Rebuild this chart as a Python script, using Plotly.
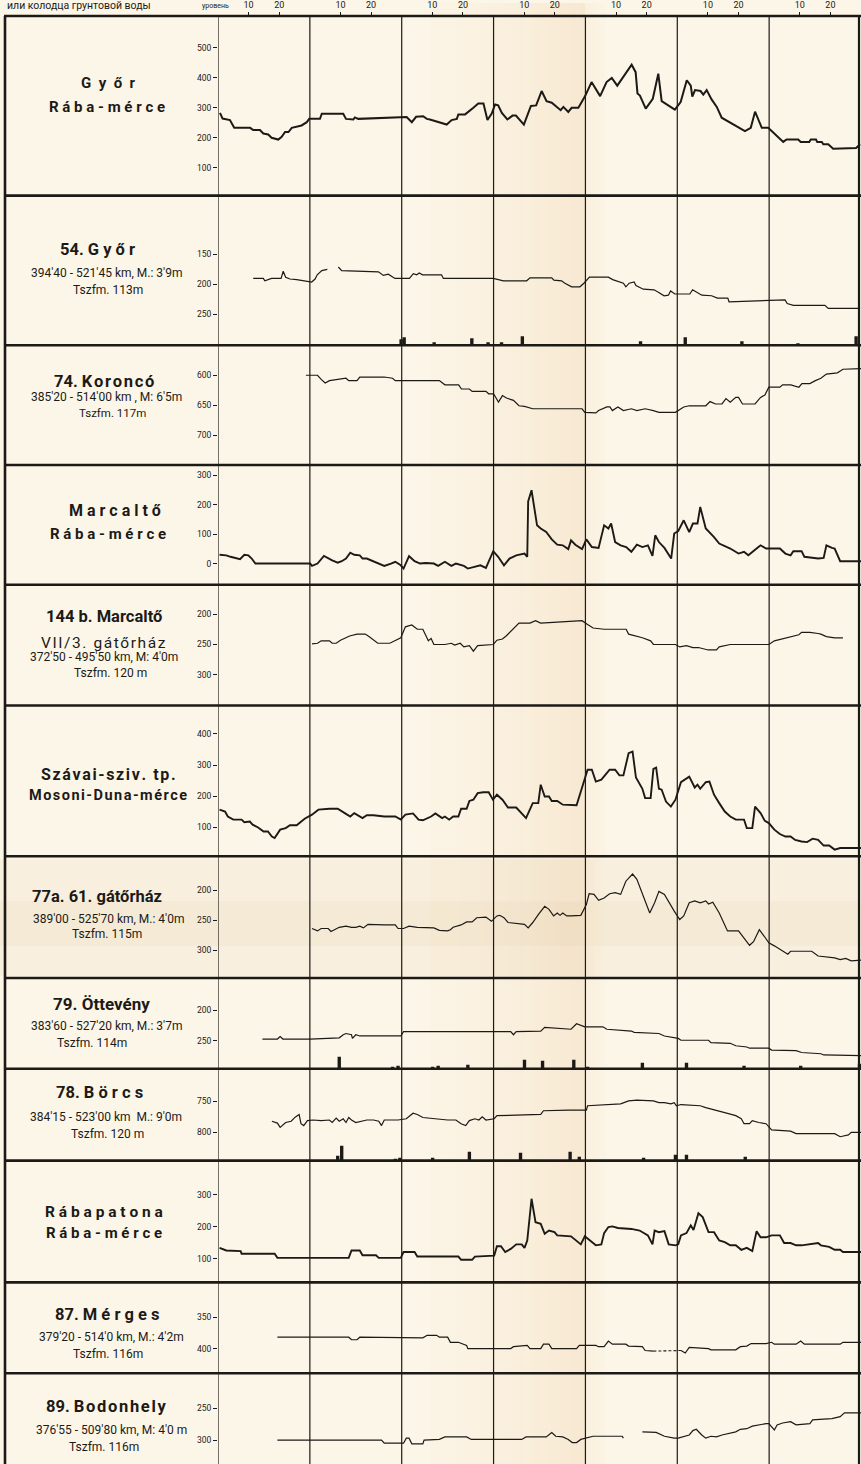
import plotly.graph_objects as go

# ---------------- DATA (day index from start of chart, value in cm) ----------------
header_days = [10, 20, 40, 50, 70, 80, 100, 110, 130, 140, 160, 170, 190, 200]
header_text = ["10", "20"] * 7
month_bounds = [0, 30, 60, 90, 120, 150, 180]

gyor_raba = [(0.65,283),(1.5,264),(3.9,259),(5.3,233),(10.5,233),(11.5,226),(13.7,226),(14.8,214),(16.4,211),(17.5,200),
             (19.7,194),(20.8,203),(21.9,219),(23.0,219),(24.1,233),(27.3,241),(29.0,252),(29.8,263),(33.3,263),(33.9,280),
             (40.9,280),(41.8,263),(44.2,261),(44.7,268),(45.8,263),(57.3,269),(61.6,269),(63.3,252),(64.7,270),(67.0,272),
             (68.2,263),(69.2,261),(74.7,244),(76.3,259),(78.0,263),(78.5,278),(80.7,278),(83.4,300),(85.0,314),(86.7,314),
             (88.0,259),(89.4,281),(90.5,311),(91.5,308),(92.7,283),(94.5,261),(96.2,274),(97.3,274),(99.9,244),(102.2,306),
             (103.9,308),(105.7,356),(107.3,322),(109.0,317),(110.6,303),(111.9,292),(112.8,303),(114.4,286),(115.5,300),(117.7,300),
             (119.9,339),(122.0,386),(124.8,339),(126.9,386),(128.6,400),(130.4,374),(135.1,444),(136.4,419),(137.0,348),(137.8,341),
             (139.7,297),(142.0,330),(143.8,414),(144.9,322),(149.2,294),(151.1,319),(153.1,392),(154.4,374),(154.9,337),(155.8,359),
             (157.6,356),(158.5,344),(159.6,359),(161.2,328),(162.9,303),(164.5,267),(172.1,222),(174.0,233),(175.4,287),(177.6,233),
             (179.7,233),(184.6,186),(185.7,194),(189.5,194),(190.3,186),(193.1,186),(193.6,194),(195.3,194),(195.7,186),(197.2,186),
             (197.7,178),(199.3,178),(200.9,163),(208.4,166),(209.7,178)]

gyor54 = [(11.5,190),(14.8,190),(15.3,194),(17.5,190),(20.6,190),(21.3,178),(22.1,188),(23.5,191),(25.7,192),(27.9,194),
          (30.6,196),(31.7,191),(32.4,184),(33.9,177),(35.7,175),(37.5,None),(39.3,171),(40.4,177),(52.4,179),(54.0,185),
          (55.6,183),(57.8,190),(62.5,190),(63.8,182),(64.9,184),(65.7,181),(66.8,184),(69.2,184),(73.0,184),(73.6,190),
          (89.9,190),(93.2,194),(100.8,194),(101.9,189),(109.0,189),(109.7,193),(112.2,194),(113.3,198),(115.5,204),(118.2,204),
          (119.5,198),(121.3,188),(127.5,188),(128.9,192),(132.4,198),(133.2,204),(134.3,198),(135.9,196),(136.5,202),(138.9,208),
          (142.4,209),(143.8,213),(145.7,219),(147.1,218),(147.8,211),(149.2,216),(154.1,216),(155.0,209),(156.3,213),(158.0,218),
          (161.2,219),(163.1,223),(166.5,223),(166.9,229),(185.2,226),(185.9,232),(187.9,235),(198.2,235),(199.3,240),(209.7,240)]
gyor54_precip = [(59.8,6),(60.8,8),(70.6,3),(82.9,7),(88.2,3),(92.6,3),(99.4,9),(138.0,4),(152.6,8),(171.1,4),(189.4,2),(208.4,9)]

koronco = [(28.7,600),(32.5,600),(33.7,607),(35.0,613),(36.4,609),(38.6,607),(41.8,605),(42.7,609),(45.4,609),(46.3,603),
           (54.3,603),(57.0,605),(57.9,609),(72.3,609),(74.1,616),(78.6,616),(79.5,623),(82.1,623),(83.0,627),(87.5,627),
           (88.4,631),(90.0,631),(90.7,637),(91.6,645),(92.9,634),(94.2,638),(96.5,642),(98.3,651),(100.1,652),(102.8,656),
           (118.9,656),(119.8,662),(123.4,663),(124.3,659),(127.0,653),(128.0,653),(128.8,659),(130.6,653),(132.4,659),(135.0,656),
           (136.8,659),(139.5,656),(142.2,659),(144.0,662),(149.4,662),(152.1,653),(153.9,651),(159.3,651),(160.7,644),(162.5,648),
           (164.6,648),(165.9,639),(167.3,645),(169.1,637),(170.0,637),(171.3,648),(175.4,648),(177.2,637),(178.6,633),(179.9,620),
           (183.5,620),(184.4,616),(187.1,616),(189.7,620),(190.7,614),(193.3,614),(195.1,609),(196.9,605),(198.7,598),(202.3,596),
           (204.1,590),(207.7,589),(210,589)]

marcalto_raba = [(0.5,30),(2.7,28),(4.1,23),(7.2,15),(8.6,30),(9.9,28),(11.0,17),(12.2,0),(30.1,0),(30.7,-8),
                 (32.5,0),(34.6,26),(37.3,11),(39.1,3),(40.4,8),(41.8,17),(43.2,37),(44.5,30),(46.3,28),(47.2,17),
                 (48.6,17),(50.8,8),(52.5,2),(54.3,-8),(56.5,0),(57.9,6),(59.7,-6),(60.6,-17),(62.4,25),(64.2,8),
                 (66.0,0),(67.8,2),(70.5,0),(71.9,-8),(74.1,6),(76.2,-8),(77.7,0),(80.3,-8),(81.6,-17),(83.9,-11),
                 (85.7,-6),(87.5,-15),(89.9,42),(91.5,23),(93.4,-6),(95.2,17),(97.4,28),(100.1,34),(101.0,23),(101.3,211),
                 (102.4,249),(104.2,130),(105.4,119),(107.2,107),(109.0,82),(110.8,64),(112.6,62),(114.4,49),(115.3,79),(116.7,64),
                 (118.9,49),(120.3,82),(122.1,56),(124.3,53),(126.1,130),(127.5,119),(128.4,136),(129.7,73),(131.5,62),(133.3,56),
                 (135.0,40),(136.8,64),(138.6,56),(140.4,62),(141.9,26),(142.8,96),(144.0,73),(145.8,53),(148.0,17),(149.0,102),
                 (150.3,110),(152.1,147),(153.9,107),(155.1,136),(156.6,136),(157.5,192),(159.3,119),(162.0,90),(163.7,68),(167.3,51),
                 (170.0,34),(171.8,40),(173.2,28),(175.9,51),(177.2,62),(179.0,51),(183.5,51),(185.3,34),(187.0,28),(187.9,42),
                 (190.6,42),(191.5,23),(196.0,17),(197.8,19),(198.7,62),(200.5,53),(201.4,51),(203.2,8),(210,8)]

marcalto144 = [(30.7,249),(32.5,248),(33.7,244),(36.4,244),(37.3,248),(38.6,248),(40.0,243),(41.8,239),(43.0,236),(45.4,233),
               (48.1,233),(49.3,237),(52.2,248),(56.1,248),(57.9,243),(59.7,239),(61.2,221),(63.3,218),(65.1,225),(66.9,225),
               (68.7,244),(69.6,240),(70.5,250),(74.1,250),(76.2,248),(77.3,251),(79.1,248),(80.3,254),(82.1,252),(83.4,261),
               (84.8,252),(86.6,251),(89.9,250),(91.1,243),(92.9,241),(94.1,236),(95.6,229),(98.3,215),(101.9,215),(103.7,211),
               (105.4,215),(109.0,214),(118.9,211),(120.7,217),(122.5,223),(126.1,225),(133.3,225),(134.1,233),(136.8,236),(138.6,239),
               (141.3,244),(142.2,250),(149.4,250),(150.8,254),(153.0,252),(155.1,255),(156.9,255),(160.1,259),(162.8,259),(163.7,254),
               (167.3,250),(179.9,250),(181.7,244),(184.4,241),(187.0,237),(189.7,234),(190.6,230),(193.3,230),(196.0,232),(196.9,233),
               (198.7,237),(201.4,239),(204.1,239)]

szavai_duna = [(0.5,157),(2.3,151),(3.2,135),(5.0,125),(7.7,125),(8.6,117),(10.4,119),(11.3,109),(13.1,100),(14.9,87),
               (16.3,87),(17.6,71),(18.5,66),(20.3,93),(22.1,98),(23.5,107),(25.7,107),(27.1,119),(28.3,128),(30.7,141),
               (32.8,157),(36.4,160),(39.1,160),(41.4,146),(43.2,135),(44.5,146),(46.3,135),(47.2,130),(48.6,139),(50.8,139),
               (54.3,135),(57.9,135),(59.7,125),(61.2,141),(63.7,145),(65.5,125),(66.9,123),(69.6,135),(71.0,145),(73.2,130),
               (74.1,135),(75.5,125),(76.8,135),(78.5,135),(79.4,160),(81.2,160),(82.1,185),(83.4,189),(84.8,210),(86.6,213),
               (88.4,213),(89.8,189),(91.1,205),(92.9,189),(94.7,164),(97.4,164),(100.6,130),(102.8,178),(104.6,178),(105.4,237),
               (106.7,199),(108.1,199),(109.0,185),(110.8,185),(112.6,173),(114.4,173),(117.1,171),(118.5,215),(119.4,242),(120.7,285),
               (122.1,285),(123.4,247),(125.2,253),(127.9,285),(129.7,285),(131.1,267),(132.4,267),(134.1,338),(135.4,343),(136.5,260),
               (138.6,224),(139.5,194),(141.3,194),(142.2,288),(143.1,292),(144.0,224),(144.9,221),(146.3,183),(147.9,167),(149.4,189),
               (151.2,245),(153.9,263),(155.7,228),(156.6,237),(157.5,224),(159.3,245),(160.5,247),(162.0,205),(163.7,178),(165.5,151),
               (167.3,135),(169.1,125),(171.8,125),(172.7,98),(174.5,98),(175.4,167),(177.2,146),(178.6,121),(179.9,114),(181.7,93),
               (183.5,79),(185.3,71),(187.0,71),(188.5,60),(190.6,55),(192.4,53),(194.2,64),(196.0,60),(197.8,42),(199.6,42),
               (201.4,29),(203.2,34),(210,34)]

gatorhaz61 = [(30.7,264),(32.5,268),(33.7,264),(36.0,264),(36.9,269),(38.6,264),(39.6,262),(41.8,260),(43.6,262),(45.0,262),
              (46.3,260),(47.5,263),(49.0,257),(54.3,258),(57.9,258),(58.8,264),(60.6,264),(62.4,260),(65.1,262),(70.5,263),
              (72.3,267),(75.0,268),(75.9,266),(76.8,262),(79.4,258),(81.2,253),(83.0,253),(84.5,246),(87.5,245),(89.3,252),
              (91.1,243),(92.0,242),(93.4,246),(94.7,254),(97.4,256),(100.1,257),(101.3,263),(102.8,254),(104.6,241),(106.7,227),
              (108.1,232),(109.6,243),(110.8,238),(111.7,242),(112.6,238),(113.9,243),(115.3,243),(118.5,242),(120.3,224),(121.2,206),
              (122.8,207),(124.3,217),(126.1,213),(127.9,206),(129.7,204),(131.5,207),(133.2,185),(135.4,173),(136.8,182),(138.6,207),
              (141.0,238),(142.6,221),(144.0,202),(145.8,207),(147.6,224),(149.0,235),(150.8,249),(152.1,243),(153.9,221),(155.7,218),
              (157.5,221),(159.3,218),(160.2,223),(161.6,220),(163.7,238),(166.4,268),(170.0,268),(171.8,281),(173.6,292),(174.9,286),
              (176.8,266),(178.4,277),(179.9,288),(181.7,293),(183.5,299),(186.1,307),(187.0,302),(193.9,302),(196.0,310),(198.7,312),
              (201.4,313),(203.2,316),(205.0,314),(206.8,318),(210,317)]

ottevény = [(14.5,247),(19.4,247),(20.3,243),(21.2,247),(30.1,247),(39.6,245),(40.9,240),(41.8,238),(43.6,240),(43.9,246),
            (45.0,240),(46.3,242),(59.7,242),(60.6,235),(95.6,235),(96.5,240),(97.4,235),(105.4,234),(106.7,228),(115.3,231),
            (117.1,222),(118.5,224),(119.8,227),(125.7,227),(127.0,231),(135.0,234),(135.9,236),(144.0,238),(145.8,242),(150.3,246),
            (151.2,249),(160.2,249),(161.0,253),(167.3,254),(169.1,258),(172.7,260),(173.6,262),(179.9,262),(180.8,265),(188.8,266),
            (190.6,269),(196.9,271),(197.8,273),(210,274)]
ottevény_precip = [(39.6,12),(57.0,2),(58.8,3),(70.1,2),(71.9,3),(81.6,4),(100.1,9),(106.0,8),(116.2,9),(120.7,2),
                   (138.6,6),(153.0,6),(171.8,3),(190.3,3),(209.5,5)]

borcs = [(17.6,782),(19.4,785),(20.3,792),(22.1,784),(23.9,782),(25.3,775),(26.5,771),(27.1,786),(28.0,789),(29.2,781),
         (31.0,780),(33.7,781),(36.4,780),(37.3,784),(38.6,777),(39.6,782),(40.9,778),(41.8,784),(42.7,776),(43.6,780),
         (45.0,784),(47.2,781),(48.6,780),(50.8,780),(52.5,782),(53.4,789),(54.3,780),(58.8,780),(61.5,778),(63.7,769),
         (65.1,771),(66.9,776),(68.7,777),(71.4,778),(75.0,780),(77.7,780),(79.4,786),(80.9,789),(82.1,781),(83.9,778),
         (85.2,780),(86.3,775),(87.5,780),(90.2,778),(91.1,773),(105.4,771),(106.3,765),(114.4,764),(120.3,764),(120.7,757),
         (131.5,754),(134.1,749),(136.8,748),(142.2,749),(144.0,752),(145.8,752),(147.9,754),(149.0,752),(149.7,757),(151.2,755),
         (157.5,757),(159.3,760),(162.0,764),(165.5,768),(169.1,773),(170.9,778),(171.8,786),(173.6,786),(174.5,781),(176.6,784),
         (179.0,786),(180.8,796),(187.0,798),(188.8,802),(201.4,802),(203.2,807),(205.9,804),(206.8,800),(210,800)]
borcs_precip = [(39.1,5),(40.4,15),(57.9,2),(59.4,3),(70.1,3),(82.1,9),(98.8,8),(115.0,9),(118.0,4),(139.0,3),
                (149.4,6),(153.0,6),(172.2,4)]

rabapatona = [(0.5,134),(2.7,126),(7.4,124),(7.7,116),(18.5,116),(19.4,103),(42.7,103),(43.6,126),(46.3,126),(47.2,111),
              (51.6,111),(52.5,103),(59.7,103),(60.6,121),(64.2,121),(65.1,107),(78.5,107),(79.4,97),(83.0,97),(83.9,107),
              (90.2,110),(91.1,139),(92.4,139),(93.8,121),(95.6,131),(97.4,145),(99.2,145),(100.1,134),(101.0,157),(102.4,287),
              (103.7,214),(105.4,209),(106.7,178),(108.1,188),(109.9,183),(110.8,173),(115.3,170),(118.5,145),(119.8,170),(121.6,157),
              (123.4,142),(125.2,145),(126.1,180),(127.5,199),(128.8,201),(130.6,196),(135.0,193),(137.7,188),(140.4,173),(141.9,145),
              (142.6,188),(144.0,183),(145.8,186),(147.2,145),(149.4,142),(150.3,145),(151.2,173),(153.0,180),(154.4,204),(155.3,190),
              (156.9,242),(158.3,230),(160.2,183),(162.0,183),(163.7,157),(165.5,152),(167.3,142),(169.1,142),(170.9,128),(172.7,134),
              (174.5,124),(175.9,186),(177.2,167),(179.0,167),(180.8,173),(183.5,173),(184.9,149),(187.0,149),(188.8,142),(190.6,142),
              (193.3,145),(196.0,149),(196.9,142),(199.6,137),(201.4,128),(203.2,128),(204.1,121),(210,121)]

merges = [(19.4,382),(42.7,382),(43.6,386),(45.4,386),(46.3,382),(66.0,382),(66.9,383),(68.3,379),(71.4,379),(72.3,382),
          (75.0,382),(75.9,390),(78.5,390),(81.2,395),(81.6,400),(95.6,400),(96.5,397),(101.0,395),(101.9,400),(105.4,400),
          (106.3,393),(108.1,393),(109.0,400),(117.1,400),(118.0,395),(123.4,395),(124.3,397),(126.1,397),(127.5,388),(128.8,393),
          (133.2,393),(134.1,396),(138.6,397),(139.5,403),(142.2,404),(146.0,None),(151.2,403),(152.6,407),(153.9,398),(160.2,400),
          (161.0,402),(169.1,402),(170.6,397),(172.7,396),(174.1,392),(179.0,392),(180.8,390),(181.7,393),(188.8,393),(190.3,388),
          (191.5,393),(203.2,393),(204.1,390),(210,390)]
merges_dashed = [(142.2,404),(151.2,403)]

bodonhely = [(19.4,300),(53.4,300),(54.3,305),(60.6,305),(61.5,297),(62.4,297),(63.3,306),(66.9,306),(67.3,300),(72.3,299),
             (74.1,295),(81.2,295),(82.7,299),(99.2,299),(100.6,295),(107.2,295),(109.0,288),(110.3,294),(112.6,295),(114.4,299),
             (115.7,304),(117.1,304),(118.5,299),(120.3,297),(122.5,294),(132.0,294),(132.4,297),(135.0,None),(138.6,287),(143.1,288),
             (145.8,294),(149.0,297),(150.3,297),(152.1,295),(153.9,292),(155.1,285),(156.2,283),(158.0,292),(159.3,297),(161.0,294),
             (162.8,295),(164.6,292),(166.4,290),(169.1,287),(170.6,283),(172.7,282),(174.5,278),(176.3,276),(179.0,274),(179.9,274),
             (181.7,284),(182.6,276),(184.4,273),(187.0,271),(188.8,276),(193.3,274),(194.2,268),(197.8,267),(200.5,266),(203.2,263),
             (204.6,257),(210,257)]

# ---------------- LAYOUT CONSTANTS ----------------
W, H = 861, 1464
PX0 = 218                      # left edge of plotting area (px)
borders = [13, 193, 343, 463, 583, 704, 855, 977, 1068, 1160, 1282, 1373, 1464]
panels = [
    (gyor_raba,      [6.7, 606.7],   [100, 200, 300, 400, 500], 2.0),
    (gyor54,         [301.7, 51.7],  [150, 200, 250], 1.2),
    (koronco,        [750, 550],     [600, 650, 700], 1.2),
    (marcalto_raba,  [-72.2, 334.6], [0, 100, 200, 300], 1.9),
    (marcalto144,    [350.3, 152],   [200, 250, 300], 1.2),
    (szavai_duna,    [7.7, 490.7],   [100, 200, 300, 400], 1.9),
    (gatorhaz61,     [346.7, 143.3], [200, 250, 300], 1.2),
    (ottevény,       [295.6, 147.4], [200, 250], 1.2),
    (borcs,          [845.6, 697.3], [750, 800], 1.2),
    (rabapatona,     [26.7, 405.6],  [100, 200, 300], 1.9),
    (merges,         [438.9, 295.2], [350, 400], 1.2),
    (bodonhely,      [337.9, 194.2], [250, 300], 1.2),
]
precip_panels = [(2, gyor54_precip), (8, ottevény_precip), (9, borcs_precip)]

FONT = "Roboto, Liberation Sans, sans-serif"
INK = "#1c1a17"
BG = "#fcf6e8"
HS = "\u200a"   # hair space
NB = "\u00a0"   # no-break space

def py(px):
    return 1 - px / H

def spaced(s, sep=HS):
    return sep.join(list(s))

fig = go.Figure()
layout = dict(
    width=W, height=H, autosize=False,
    margin=dict(l=0, r=0, t=0, b=0),
    paper_bgcolor=BG, plot_bgcolor="rgba(0,0,0,0)",
    showlegend=False,
    xaxis=dict(domain=[PX0 / W, 1], range=[0, 210], anchor="y", side="top",
               tickmode="array", tickvals=header_days, ticktext=header_text,
               ticks="outside", ticklen=3, tickcolor=INK, tickwidth=1,
               tickfont=dict(family=FONT, size=9, color=INK),
               showgrid=False, zeroline=False, showline=False, fixedrange=True),
)

for i, (series, rng, tv, lw) in enumerate(panels, start=1):
    top, bot = borders[i - 1], borders[i]
    yname = "yaxis" if i == 1 else f"yaxis{i}"
    yref = "y" if i == 1 else f"y{i}"
    layout[yname] = dict(domain=[py(bot), py(top)], range=rng, anchor="x",
                         tickmode="array", tickvals=tv, ticks="outside", ticklen=4,
                         tickcolor=INK, tickwidth=1,
                         tickfont=dict(family=FONT, size=8.5, color=INK),
                         showgrid=False, zeroline=False, showline=False, fixedrange=True)
    fig.add_trace(go.Scatter(x=[p[0] for p in series], y=[p[1] for p in series],
                             mode="lines", xaxis="x", yaxis=yref,
                             line=dict(color=INK, width=lw), connectgaps=False,
                             hoverinfo="skip"))
    if i == 11:
        fig.add_trace(go.Scatter(x=[p[0] for p in merges_dashed], y=[p[1] for p in merges_dashed],
                                 mode="lines", xaxis="x", yaxis=yref,
                                 line=dict(color=INK, width=1.1, dash="3px,2px"), hoverinfo="skip"))

for k, (pi, bars) in enumerate(precip_panels):
    ax_id = 13 + k
    top, bot = borders[pi - 1], borders[pi]
    layout[f"yaxis{ax_id}"] = dict(domain=[py(bot), py(top)], range=[0, bot - top],
                                   anchor="x", visible=False, showgrid=False, zeroline=False)
    fig.add_trace(go.Bar(x=[b[0] for b in bars], y=[b[1] for b in bars], width=1.1,
                         marker=dict(color=INK, line=dict(width=0)),
                         xaxis="x", yaxis=f"y{ax_id}", hoverinfo="skip"))

shapes = []
# paper texture: smooth fold band left of the 4th month line
for s in range(31):
    x0 = 430 + s * 5
    t = (x0 - 430) / 155.0
    a = 0.03 + 0.16 * t ** 1.6
    shapes.append(dict(type="rect", xref="paper", yref="paper", x0=x0 / W, x1=(x0 + 5) / W, y0=0, y1=1,
                       fillcolor=f"rgba(228,172,110,{a:.3f})", line=dict(width=0), layer="below"))
for s in range(4):
    x0 = 585 + s * 5
    a = 0.07 - 0.015 * s
    shapes.append(dict(type="rect", xref="paper", yref="paper", x0=x0 / W, x1=(x0 + 5) / W, y0=0, y1=1,
                       fillcolor=f"rgba(228,172,110,{a:.3f})", line=dict(width=0), layer="below"))
for y0, y1, a in [(858, 975, 0.09), (900, 945, 0.07)]:
    shapes.append(dict(type="rect", xref="paper", yref="paper", x0=0, x1=1, y0=py(y1), y1=py(y0),
                       fillcolor=f"rgba(215,175,120,{a})", line=dict(width=0), layer="below"))
# month boundaries
for d in month_bounds:
    shapes.append(dict(type="line", xref="x", yref="paper", x0=d, x1=d, y0=0, y1=py(borders[0]),
                       line=dict(color=INK, width=1.2)))
# panel separators
for b in borders[:-1]:
    shapes.append(dict(type="line", xref="paper", yref="paper", x0=4 / W, x1=1, y0=py(b), y1=py(b),
                       line=dict(color=INK, width=2.6)))
# outer frame
shapes.append(dict(type="line", xref="paper", yref="paper", x0=5 / W, x1=5 / W, y0=0, y1=py(borders[0]),
                   line=dict(color=INK, width=2.6)))
shapes.append(dict(type="line", xref="paper", yref="paper", x0=859 / W, x1=859 / W, y0=0, y1=py(borders[0]),
                   line=dict(color=INK, width=2.2)))
layout["shapes"] = shapes

G2 = NB * 2
# station labels: (text, y px, size, x px, bold)
labels = [
    (G2.join("Győr"), 80, 15, 109, True), (spaced("Rába-mérce", NB), 104, 15, 107, True),
    ("54. " + NB.join("Győr"), 247, 16.5, 97, True), ("394'40 - 521'45 km, M.: 3'9m", 271, 12, 106, False), ("Tszfm. 113m", 288, 12, 108, False),
    ("74. " + spaced("Koroncó"), 379, 16.5, 104, True), ("385'20 - 514'00 km , M: 6'5m", 395, 12, 106, False), ("Tszfm. 117m", 411, 11.5, 112, False),
    (spaced("Marcaltő", NB), 509, 16, 115, True), (spaced("Rába-mérce", NB), 532, 15, 108, True),
    ("144 b. Marcaltő", 615, 16.5, 104, True), (spaced("VII/3. gátőrház"), 641, 15.5, 103, False),
    ("372'50 - 495'50 km, M: 4'0m", 655, 12, 104, False), ("Tszfm. 120 m", 671, 12, 110, False),
    (spaced("Szávai-sziv. tp."), 773, 16, 108, True), (spaced("Mosoni-Duna-mérce"), 794, 14.5, 108, True),
    ("77a. 61. gátőrház", 895, 16.5, 97, True), ("389'00 - 525'70 km, M.: 4'0m", 918, 12, 108, False), ("Tszfm. 115m", 933, 12, 107, False),
    ("79. Öttevény", 1003, 17, 101, True), ("383'60 - 527'20 km, M.: 3'7m", 1025, 12, 106, False), ("Tszfm. 114m", 1042, 12, 92, False),
    ("78. " + NB.join("Börcs"), 1092, 16.5, 99, True), ("384'15 - 523'00 km  M.: 9'0m", 1116, 12, 106, False), ("Tszfm. 120 m", 1133, 12, 107, False),
    (spaced("Rábapatona", NB), 1211, 15.5, 104, True), (spaced("Rába-mérce", NB), 1233, 15, 104, True),
    ("87. M é r g e s", 1314, 16.5, 107, True), ("379'20 - 514'0 km, M.: 4'2m", 1337, 12, 111, False), ("Tszfm. 116m", 1354, 12, 108, False),
    ("89. " + spaced("Bodonhely"), 1406, 16.5, 106, True), ("376'55 - 509'80 km, M: 4'0 m", 1430, 12, 111, False), ("Tszfm. 116m", 1447, 12, 104, False),
]
ann = []
for text, ypx, size, xpx, bold in labels:
    ann.append(dict(text=f"<b>{text}</b>" if bold else text, x=xpx / W, y=py(ypx), xref="paper", yref="paper",
                    xanchor="center", yanchor="middle", showarrow=False,
                    font=dict(family=FONT, size=size, color=INK)))
ann.append(dict(text="или колодца грунтовой воды", x=5 / W, y=py(3), xref="paper", yref="paper",
                xanchor="left", yanchor="middle", showarrow=False,
                font=dict(family=FONT, size=10.5, color=INK)))
ann.append(dict(text="уровень", x=215 / W, y=py(3), xref="paper", yref="paper",
                xanchor="center", yanchor="middle", showarrow=False,
                font=dict(family=FONT, size=7, color=INK)))
layout["annotations"] = ann

fig.update_layout(**layout)
fig.write_html("out.html", config={"displayModeBar": False, "staticPlot": True},
               post_script="document.body.style.margin='0';")
